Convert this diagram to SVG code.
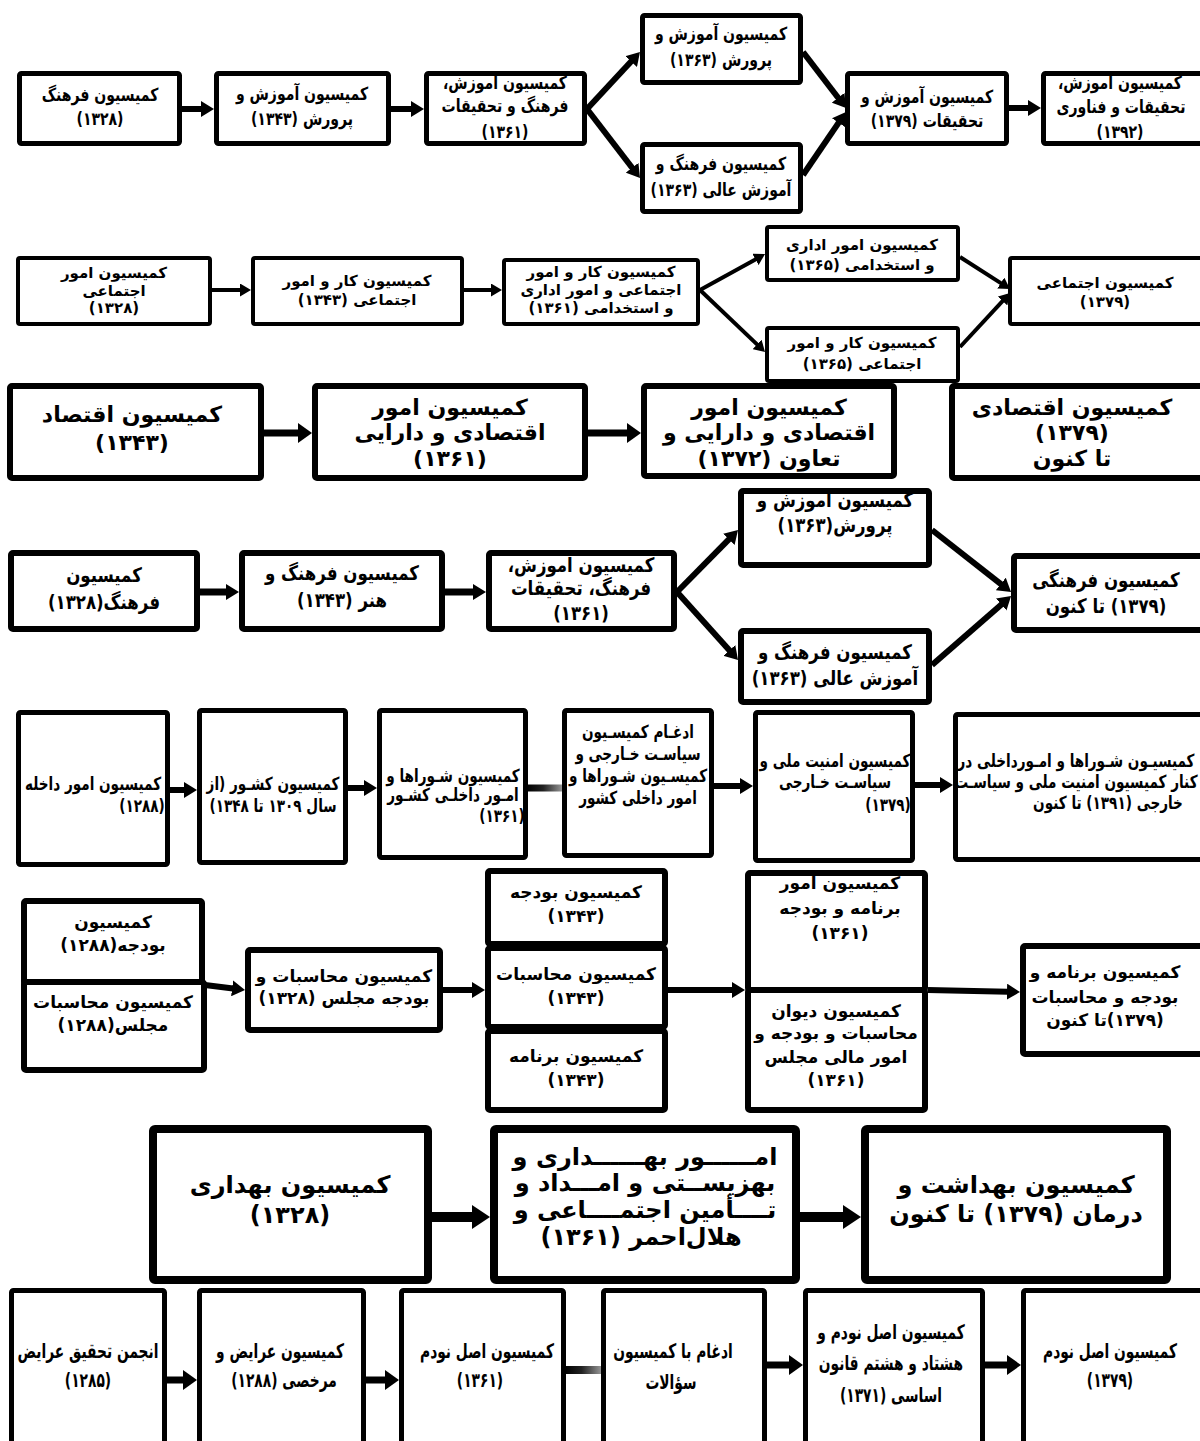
<svg xmlns="http://www.w3.org/2000/svg" width="1200" height="1441" viewBox="0 0 1200 1441">
<style>
.bx{fill:#fff;stroke:#000;stroke-linejoin:round}
.s4{stroke-width:4}.s5{stroke-width:5}.s6{stroke-width:6}.s8{stroke-width:8}
.ln{stroke:#000;fill:none}
.w4{stroke-width:4}.w6{stroke-width:6}.w7{stroke-width:7}.w10{stroke-width:10}
text{font-family:"DejaVu Sans",sans-serif;font-weight:bold;fill:#000;text-anchor:middle;direction:rtl;unicode-bidi:embed}
.t1{font-size:18px}.t2{font-size:15px}.t3{font-size:22px}.t4{font-size:20px}.t5{font-size:18px}.t6{font-size:17px}.t7{font-size:24px}.t8{font-size:20px}
</style>
<defs>
<marker id="mA" markerUnits="userSpaceOnUse" viewBox="0 0 13 16" markerWidth="13" markerHeight="16" refX="1" refY="8" orient="auto"><path d="M0,0 L13,8 L0,16 z" fill="#000"/></marker>
<marker id="mB" markerUnits="userSpaceOnUse" viewBox="0 0 11 13" markerWidth="11" markerHeight="13" refX="1" refY="6.5" orient="auto"><path d="M0,0 L11,6.5 L0,13 z" fill="#000"/></marker>
<marker id="mC" markerUnits="userSpaceOnUse" viewBox="0 0 14 20" markerWidth="14" markerHeight="20" refX="1" refY="10" orient="auto"><path d="M0,0 L14,10 L0,20 z" fill="#000"/></marker>
<marker id="mD" markerUnits="userSpaceOnUse" viewBox="0 0 18 24" markerWidth="18" markerHeight="24" refX="1" refY="12" orient="auto"><path d="M0,0 L18,12 L0,24 z" fill="#000"/></marker>
<linearGradient id="gr" x1="0" y1="0" x2="1" y2="0"><stop offset="0" stop-color="#000"/><stop offset="0.45" stop-color="#222"/><stop offset="1" stop-color="#9a9a9a"/></linearGradient>
</defs>
<rect width="1200" height="1441" fill="#fff"/>

<g id="connectors">
<line class="ln w6" x1="182" y1="109" x2="202" y2="109" marker-end="url(#mA)"/>
<line class="ln w6" x1="391" y1="109" x2="412" y2="109" marker-end="url(#mA)"/>
<line class="ln w6" x1="587" y1="109" x2="631.8" y2="60.8" marker-end="url(#mA)"/>
<line class="ln w6" x1="587" y1="109" x2="632.7" y2="168.5" marker-end="url(#mA)"/>
<line class="ln w6" x1="803" y1="52" x2="838.7" y2="98.5" marker-end="url(#mA)"/>
<line class="ln w6" x1="803" y1="175" x2="839.2" y2="121.9" marker-end="url(#mA)"/>
<line class="ln w6" x1="1009" y1="108" x2="1029" y2="108" marker-end="url(#mA)"/>
<line class="ln w4" x1="212" y1="290" x2="241" y2="290" marker-end="url(#mB)"/>
<line class="ln w4" x1="464" y1="290" x2="492" y2="290" marker-end="url(#mB)"/>
<line class="ln w4" x1="700" y1="290" x2="756.3" y2="258.9" marker-end="url(#mB)"/>
<line class="ln w4" x1="700" y1="290" x2="757.8" y2="345.1" marker-end="url(#mB)"/>
<line class="ln w4" x1="960" y1="257" x2="1001.6" y2="283.6" marker-end="url(#mB)"/>
<line class="ln w4" x1="960" y1="347" x2="1003.2" y2="300.3" marker-end="url(#mB)"/>
<line class="ln w7" x1="264" y1="433" x2="299" y2="433" marker-end="url(#mC)"/>
<line class="ln w7" x1="588" y1="433" x2="628" y2="433" marker-end="url(#mC)"/>
<line class="ln w7" x1="200" y1="592" x2="227" y2="592" marker-end="url(#mA)"/>
<line class="ln w7" x1="445" y1="592" x2="474" y2="592" marker-end="url(#mA)"/>
<line class="ln w6" x1="677" y1="592" x2="729.6" y2="538.6" marker-end="url(#mA)"/>
<line class="ln w6" x1="677" y1="592" x2="730" y2="651.1" marker-end="url(#mA)"/>
<line class="ln w6" x1="932" y1="530" x2="1001.6" y2="584.6" marker-end="url(#mA)"/>
<line class="ln w6" x1="932" y1="665" x2="1002" y2="603.9" marker-end="url(#mA)"/>
<line class="ln w6" x1="170" y1="790" x2="185" y2="790" marker-end="url(#mA)"/>
<line class="ln w6" x1="348" y1="788" x2="365" y2="788" marker-end="url(#mA)"/>
<rect x="527" y="784.5" width="36" height="7" fill="url(#gr)"/>
<line class="ln w6" x1="714" y1="786" x2="741" y2="786" marker-end="url(#mA)"/>
<line class="ln w6" x1="915" y1="785" x2="941" y2="785" marker-end="url(#mA)"/>
<line class="ln w6" x1="205" y1="985" x2="233.1" y2="988.5" marker-end="url(#mA)"/>
<line class="ln w6" x1="443" y1="990" x2="473" y2="990" marker-end="url(#mA)"/>
<line class="ln w6" x1="668" y1="990" x2="733" y2="990" marker-end="url(#mA)"/>
<line class="ln w6" x1="928" y1="990" x2="1008" y2="991.7" marker-end="url(#mA)"/>
<line class="ln w10" x1="432" y1="1217" x2="473" y2="1217" marker-end="url(#mD)"/>
<line class="ln w10" x1="800" y1="1217" x2="844" y2="1217" marker-end="url(#mD)"/>
<line class="ln w7" x1="167" y1="1380" x2="184" y2="1380" marker-end="url(#mC)"/>
<line class="ln w7" x1="366" y1="1380" x2="386" y2="1380" marker-end="url(#mC)"/>
<rect x="565" y="1366" width="37" height="8" fill="url(#gr)"/>
<line class="ln w7" x1="767" y1="1365" x2="790" y2="1365" marker-end="url(#mC)"/>
<line class="ln w7" x1="985" y1="1365" x2="1008" y2="1365" marker-end="url(#mC)"/>
</g>

<g id="b1"><rect class="bx s5" x="19.5" y="73.5" width="160" height="70" rx="2"/><text class="t1" transform="translate(100 0) scale(0.78 1)" y="101">کمیسیون فرهنگ</text><text class="t1" transform="translate(100 0) scale(0.78 1)" y="125">(۱۳۲۸)</text></g>
<g id="b2"><rect class="bx s5" x="216.5" y="73.5" width="172" height="70" rx="2"/><text class="t1" transform="translate(302 0) scale(0.78 1)" y="100">کمیسیون آموزش و</text><text class="t1" transform="translate(302 0) scale(0.78 1)" y="125">پرورش (۱۳۴۳)</text></g>
<g id="b3"><rect class="bx s5" x="426.5" y="73.5" width="158" height="70" rx="2"/><text class="t1" transform="translate(505 0) scale(0.78 1)" y="89">کمیسیون اموزش،</text><text class="t1" transform="translate(505 0) scale(0.78 1)" y="112">فرهنگ و تحقیقات</text><text class="t1" transform="translate(505 0) scale(0.78 1)" y="138">(۱۳۶۱)</text></g>
<g id="b4"><rect class="bx s5" x="642.5" y="15.5" width="158" height="67" rx="2"/><text class="t1" transform="translate(721 0) scale(0.78 1)" y="40">کمیسیون آموزش و</text><text class="t1" transform="translate(721 0) scale(0.78 1)" y="66">پرورش (۱۳۶۳)</text></g>
<g id="b5"><rect class="bx s5" x="642.5" y="144.5" width="158" height="67" rx="2"/><text class="t1" transform="translate(721 0) scale(0.78 1)" y="170">کمیسیون فرهنگ و</text><text class="t1" transform="translate(721 0) scale(0.78 1)" y="196">آموزش عالی (۱۳۶۳)</text></g>
<g id="b6"><rect class="bx s5" x="847.5" y="73.5" width="159" height="70" rx="2"/><text class="t1" transform="translate(927 0) scale(0.78 1)" y="103">کمیسیون آموزش و</text><text class="t1" transform="translate(927 0) scale(0.78 1)" y="127">تحقیقات (۱۳۷۹)</text></g>
<g id="b7"><rect class="bx s5" x="1043.5" y="73.5" width="170" height="70" rx="2"/><text class="t1" transform="translate(1120 0) scale(0.78 1)" y="89">کمیسیون اموزش،</text><text class="t1" transform="translate(1121 0) scale(0.78 1)" y="113">تحقیقات و فناوری</text><text class="t1" transform="translate(1120 0) scale(0.78 1)" y="138">(۱۳۹۲)</text></g>

<g id="c1"><rect class="bx s4" x="18" y="258" width="192" height="66" rx="2"/><text class="t2" x="114" y="278">کمیسیون امور</text><text class="t2" x="114" y="296">اجتماعی</text><text class="t2" x="114" y="313">(۱۳۲۸)</text></g>
<g id="c2"><rect class="bx s4" x="253" y="258" width="209" height="66" rx="2"/><text class="t2" x="357" y="286">کمیسیون کار و امور</text><text class="t2" x="357" y="305">اجتماعی (۱۳۴۳)</text></g>
<g id="c3"><rect class="bx s4" x="504" y="260" width="194" height="64" rx="2"/><text class="t2" x="601" y="277">کمیسیون کار و امور</text><text class="t2" x="601" y="295">اجتماعی و امور اداری</text><text class="t2" x="601" y="313">و استخدامی (۱۳۶۱)</text></g>
<g id="c4"><rect class="bx s4" x="767" y="227" width="191" height="53" rx="2"/><text class="t2" x="862" y="250">کمیسیون امور اداری</text><text class="t2" x="862" y="270">و استخدامی (۱۳۶۵)</text></g>
<g id="c5"><rect class="bx s4" x="767" y="328" width="191" height="53" rx="2"/><text class="t2" x="862" y="348">کمیسیون کار و امور</text><text class="t2" x="862" y="369">اجتماعی (۱۳۶۵)</text></g>
<g id="c6"><rect class="bx s4" x="1010" y="258" width="200" height="66" rx="2"/><text class="t2" x="1105" y="288">کمیسیون اجتماعی</text><text class="t2" x="1105" y="307">(۱۳۷۹)</text></g>

<g id="d1"><rect class="bx s6" x="10" y="386" width="251" height="92" rx="2"/><text class="t3" x="132" y="422">کمیسیون اقتصاد</text><text class="t3" x="132" y="450">(۱۳۴۳)</text></g>
<g id="d2"><rect class="bx s6" x="315" y="386" width="270" height="92" rx="2"/><text class="t3" x="450" y="415">کمیسیون امور</text><text class="t3" x="450" y="440">اقتصادی و دارایی</text><text class="t3" x="450" y="466">(۱۳۶۱)</text></g>
<g id="d3"><rect class="bx s6" x="644" y="386" width="250" height="90" rx="2"/><text class="t3" x="769" y="415">کمیسیون امور</text><text class="t3" x="769" y="440">اقتصادی و دارایی و</text><text class="t3" x="769" y="466">تعاون (۱۳۷۲)</text></g>
<g id="d4"><rect class="bx s6" x="952" y="386" width="260" height="92" rx="2"/><text class="t3" x="1072" y="415">کمیسیون اقتصادی</text><text class="t3" x="1072" y="440">(۱۳۷۹)</text><text class="t3" x="1072" y="466">تا کنون</text></g>

<g id="e1"><rect class="bx s6" x="11" y="553" width="186" height="76" rx="2"/><text class="t4" transform="translate(104 0) scale(0.83 1)" y="582">کمیسیون</text><text class="t4" transform="translate(104 0) scale(0.83 1)" y="609">فرهنگ(۱۳۲۸)</text></g>
<g id="e2"><rect class="bx s6" x="242" y="553" width="200" height="76" rx="2"/><text class="t4" transform="translate(342 0) scale(0.83 1)" y="580">کمیسیون فرهنگ و</text><text class="t4" transform="translate(342 0) scale(0.83 1)" y="607">هنر (۱۳۴۳)</text></g>
<g id="e3"><rect class="bx s6" x="489" y="553" width="185" height="76" rx="2"/><text class="t4" transform="translate(581 0) scale(0.83 1)" y="572">کمیسیون اموزش،</text><text class="t4" transform="translate(581 0) scale(0.83 1)" y="595">فرهنگ، تحقیقات</text><text class="t4" transform="translate(581 0) scale(0.83 1)" y="620">(۱۳۶۱)</text></g>
<g id="e4"><rect class="bx s6" x="741" y="491" width="188" height="74" rx="2"/><text class="t4" transform="translate(835 0) scale(0.83 1)" y="507">کمیسیون اموزش و</text><text class="t4" transform="translate(835 0) scale(0.83 1)" y="532">پرورش(۱۳۶۳)</text></g>
<g id="e5"><rect class="bx s6" x="741" y="631" width="188" height="71" rx="2"/><text class="t4" transform="translate(835 0) scale(0.83 1)" y="659">کمیسیون فرهنگ و</text><text class="t4" transform="translate(835 0) scale(0.83 1)" y="685">آموزش عالی (۱۳۶۳)</text></g>
<g id="e6"><rect class="bx s6" x="1014" y="556" width="200" height="74" rx="2"/><text class="t4" transform="translate(1106 0) scale(0.83 1)" y="587">کمیسیون فرهنگی</text><text class="t4" transform="translate(1106 0) scale(0.83 1)" y="613">(۱۳۷۹) تا کنون</text></g>

<g id="f1"><rect class="bx s5" x="18.5" y="712.5" width="149" height="152" rx="2"/><text class="t5" transform="translate(93 0) scale(0.755 1)" y="790">کمیسیون امور داخله</text><text class="t5" transform="translate(142 0) scale(0.755 1)" y="812">(۱۲۸۸)</text></g>
<g id="f2"><rect class="bx s5" x="199.5" y="710.5" width="146" height="152" rx="2"/><text class="t5" transform="translate(273 0) scale(0.755 1)" y="790">کمیسیون کشـور (از</text><text class="t5" transform="translate(273 0) scale(0.755 1)" y="812">سال ۱۳۰۹ تا ۱۳۴۸)</text></g>
<g id="f3"><rect class="bx s5" x="379.5" y="710.5" width="146" height="147" rx="2"/><text class="t5" transform="translate(453 0) scale(0.755 1)" y="782">کمیسیون شـوراها و</text><text class="t5" transform="translate(453 0) scale(0.755 1)" y="801">امـور داخلـی کشـور</text><text class="t5" transform="translate(502 0) scale(0.755 1)" y="822">(۱۳۶۱)</text></g>
<g id="f4"><rect class="bx s5" x="564.5" y="710.5" width="147" height="145" rx="2"/><text class="t5" transform="translate(638 0) scale(0.755 1)" y="738">ادغـام کمیسـیون</text><text class="t5" transform="translate(638 0) scale(0.755 1)" y="760">سیاسـت خـارجی و</text><text class="t5" transform="translate(638 0) scale(0.755 1)" y="782">کمیسـیون شـوراها و</text><text class="t5" transform="translate(638 0) scale(0.755 1)" y="804">امور داخلی کشور</text></g>
<g id="f5"><rect class="bx s5" x="755.5" y="712.5" width="157" height="148" rx="2"/><text class="t5" transform="translate(835 0) scale(0.755 1)" y="767">کمیسیون امنیت ملی و</text><text class="t5" transform="translate(835 0) scale(0.755 1)" y="788">سیاسـت خـارجی</text><text class="t5" transform="translate(888 0) scale(0.755 1)" y="811">(۱۳۷۹)</text></g>
<g id="f6"><rect class="bx s5" x="955.5" y="714.5" width="250" height="145" rx="2"/><text class="t5" transform="translate(1076 0) scale(0.755 1)" y="767">کمیسیـون شـوراها و امـورداخلی در</text><text class="t5" transform="translate(1076 0) scale(0.755 1)" y="788">کنار کمیسیون امنیت ملی و سیاسـت</text><text class="t5" transform="translate(1108 0) scale(0.755 1)" y="809">خارجی (۱۳۹۱) تا کنون</text></g>

<g id="g1"><rect class="bx s6" x="24" y="901" width="178" height="83" rx="2"/><text class="t6" x="113" y="928">کمیسیون</text><text class="t6" x="113" y="951">بودجه(۱۲۸۸)</text></g>
<g id="g2"><rect class="bx s6" x="24" y="982" width="180" height="88" rx="2"/><text class="t6" x="113" y="1008">کمیسیون محاسبات</text><text class="t6" x="113" y="1031">مجلس(۱۲۸۸)</text></g>
<g id="g3"><rect class="bx s6" x="248" y="950" width="192" height="80" rx="2"/><text class="t6" x="344" y="982">کمیسیون محاسبات و</text><text class="t6" x="344" y="1004">بودجه مجلس (۱۳۲۸)</text></g>
<g id="g4a"><rect class="bx s6" x="488" y="871" width="177" height="73" rx="2"/><text class="t6" x="576" y="898">کمیسیون بودجه</text><text class="t6" x="576" y="922">(۱۳۴۳)</text></g>
<g id="g4b"><rect class="bx s6" x="488" y="948" width="177" height="79" rx="2"/><text class="t6" x="576" y="980">کمیسیون محاسبات</text><text class="t6" x="576" y="1004">(۱۳۴۳)</text></g>
<g id="g4c"><rect class="bx s6" x="488" y="1031" width="177" height="79" rx="2"/><text class="t6" x="576" y="1062">کمیسیون برنامه</text><text class="t6" x="576" y="1086">(۱۳۴۳)</text></g>
<g id="g5a"><rect class="bx s6" x="748" y="873" width="177" height="117" rx="2"/><text class="t6" x="840" y="889">کمیسیون امور</text><text class="t6" x="840" y="914">برنامه و بودجه</text><text class="t6" x="840" y="939">(۱۳۶۱)</text></g>
<g id="g5b"><rect class="bx s6" x="748" y="990" width="177" height="120" rx="2"/><text class="t6" x="836" y="1017">کمیسیون دیوان</text><text class="t6" x="836" y="1039">محاسبات و بودجه و</text><text class="t6" x="836" y="1063">امور مالی مجلس</text><text class="t6" x="836" y="1086">(۱۳۶۱)</text></g>
<g id="g6"><rect class="bx s6" x="1023" y="946" width="190" height="108" rx="2"/><text class="t6" x="1105" y="978">کمیسیون برنامه و</text><text class="t6" x="1105" y="1003">بودجه و محاسبات</text><text class="t6" x="1105" y="1026">(۱۳۷۹)تا کنون</text></g>

<g id="h1"><rect class="bx s8" x="153" y="1129" width="275" height="151" rx="2"/><text class="t7" x="290" y="1193">کمیسیون بهداری</text><text class="t7" x="290" y="1223">(۱۳۲۸)</text></g>
<g id="h2"><rect class="bx s8" x="494" y="1129" width="302" height="151" rx="2"/><text class="t7" x="645" y="1165">امــــــور بهــــــداری و</text><text class="t7" x="645" y="1191">بهزیســتی و امـــداد و</text><text class="t7" x="645" y="1218">تــــأمین اجتمــــاعی و</text><text class="t7" x="641" y="1245">هلال‌احمر (۱۳۶۱)</text></g>
<g id="h3"><rect class="bx s8" x="865" y="1129" width="302" height="151" rx="2"/><text class="t7" x="1016" y="1193">کمیسیون بهداشت و</text><text class="t7" x="1016" y="1222">درمان (۱۳۷۹) تا کنون</text></g>

<g id="i1"><rect class="bx s5" x="11.5" y="1290.5" width="153" height="170" rx="2"/><text class="t8" transform="translate(88 0) scale(0.69 1)" y="1358">انجمن تحقیق عرایض</text><text class="t8" transform="translate(88 0) scale(0.69 1)" y="1387">(۱۲۸۵)</text></g>
<g id="i2"><rect class="bx s5" x="199.5" y="1290.5" width="164" height="170" rx="2"/><text class="t8" transform="translate(280 0) scale(0.69 1)" y="1358">کمیسیون عرایض و</text><text class="t8" transform="translate(284 0) scale(0.69 1)" y="1387">مرخصی (۱۲۸۸)</text></g>
<g id="i3"><rect class="bx s5" x="401.5" y="1290.5" width="162" height="170" rx="2"/><text class="t8" transform="translate(487 0) scale(0.69 1)" y="1358">کمیسیون اصل نودم</text><text class="t8" transform="translate(480 0) scale(0.69 1)" y="1387">(۱۳۶۱)</text></g>
<g id="i4"><rect class="bx s5" x="603.5" y="1290.5" width="161" height="170" rx="2"/><text class="t8" transform="translate(673 0) scale(0.69 1)" y="1358">ادغام با کمیسیون</text><text class="t8" transform="translate(671 0) scale(0.69 1)" y="1389">سؤالات</text></g>
<g id="i5"><rect class="bx s5" x="805.5" y="1290.5" width="177" height="170" rx="2"/><text class="t8" transform="translate(891 0) scale(0.69 1)" y="1339">کمیسیون اصل نودم و</text><text class="t8" transform="translate(891 0) scale(0.69 1)" y="1370">هشتاد و هشتم قانون</text><text class="t8" transform="translate(891 0) scale(0.69 1)" y="1402">اساسی (۱۳۷۱)</text></g>
<g id="i6"><rect class="bx s5" x="1023.5" y="1290.5" width="190" height="170" rx="2"/><text class="t8" transform="translate(1110 0) scale(0.69 1)" y="1358">کمیسیون اصل نودم</text><text class="t8" transform="translate(1110 0) scale(0.69 1)" y="1387">(۱۳۷۹)</text></g>
</svg>
